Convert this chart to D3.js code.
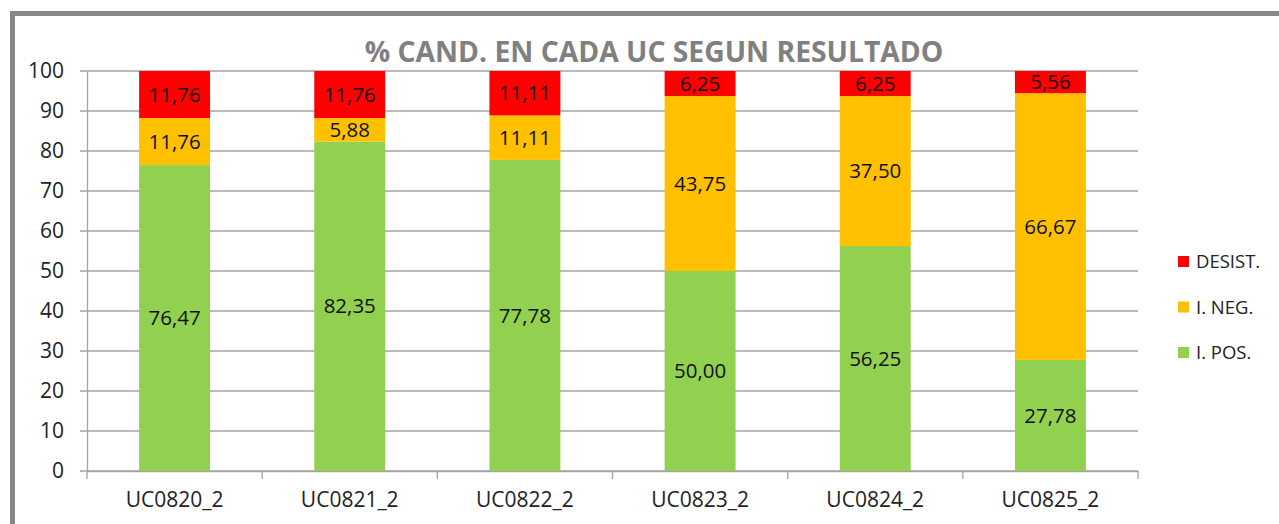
<!DOCTYPE html>
<html>
<head>
<meta charset="utf-8">
<script src="https://cdn.jsdelivr.net/npm/d3@7"></script>
<style>
  body { margin: 0; background: #fff; }
  text { font-family: "Open Sans", sans-serif; }
</style>
</head>
<body>
<div id="chart"></div>
<script>
var categories = ["UC0820_2", "UC0821_2", "UC0822_2", "UC0823_2", "UC0824_2", "UC0825_2"];
var iPos = [76.47, 82.35, 77.78, 50.00, 56.25, 27.78];
var iNeg = [11.76, 5.88, 11.11, 43.75, 37.50, 66.67];
var desist = [11.76, 11.76, 11.11, 6.25, 6.25, 5.56];
var seriesNames = ["I. POS.", "I. NEG.", "DESIST."];
var seriesColors = ["#92D050", "#FFC000", "#FF0000"];
var yTicks = [0, 10, 20, 30, 40, 50, 60, 70, 80, 90, 100];

var svgWidth = 1279;
var svgHeight = 524;

var margin = { top: 71, right: 141, bottom: 53, left: 87 };
var chartWidth = svgWidth - margin.left - margin.right;
var chartHeight = svgHeight - margin.top - margin.bottom;

var svg = d3.select("#chart").append("svg")
  .attr("width", svgWidth)
  .attr("height", svgHeight);

// outer frame (only top and left edges show)
svg.append("path")
  .attr("d", "M12.5,540 L12.5,13.5 L1290,13.5")
  .attr("fill", "none")
  .attr("stroke", "#878787")
  .attr("stroke-width", 5);

var chartGroup = svg.append("g")
  .attr("transform", `translate(${margin.left}, ${margin.top})`);

var rows = categories.map(function(c, i) {
  return { cat: c, "I. POS.": iPos[i], "I. NEG.": iNeg[i], "DESIST.": desist[i] };
});

var xScale = d3.scaleBand()
  .domain(categories)
  .range([0, chartWidth])
  .paddingInner(0.595)
  .paddingOuter(0.2975);

var yScale = d3.scaleLinear()
  .domain([0, 100])
  .range([chartHeight, 0]);

// gridlines
chartGroup.append("g").selectAll("line")
  .data(yTicks)
  .enter()
  .append("line")
  .attr("x1", -7)
  .attr("x2", chartWidth)
  .attr("y1", d => yScale(d))
  .attr("y2", d => yScale(d))
  .attr("stroke", "#a3a3a3")
  .attr("stroke-width", 1.3);

// y axis
var yAxis = d3.axisLeft(yScale).tickValues(yTicks).tickSize(0).tickPadding(23);
var yG = chartGroup.append("g").call(yAxis);
yG.select(".domain").attr("stroke", "#a3a3a3").attr("stroke-width", 1.3);
yG.selectAll("text")
  .style("font-family", "'Open Sans', sans-serif")
  .style("font-size", "21px")
  .attr("fill", "#222");

// x axis
var xAxis = d3.axisBottom(xScale).tickSize(0).tickPadding(21);
var xG = chartGroup.append("g")
  .attr("transform", `translate(0, ${chartHeight})`)
  .call(xAxis);
xG.select(".domain").attr("stroke", "#a3a3a3").attr("stroke-width", 1.3);
xG.selectAll("text")
  .style("font-family", "'Open Sans', sans-serif")
  .style("font-size", "21px")
  .attr("fill", "#222");
var step = xScale.step();
xG.append("g").selectAll("line")
  .data(d3.range(categories.length + 1))
  .enter()
  .append("line")
  .attr("x1", d => d * step)
  .attr("x2", d => d * step)
  .attr("y1", 0)
  .attr("y2", 8)
  .attr("stroke", "#a3a3a3")
  .attr("stroke-width", 1.3);

// stacked bars
var stack = d3.stack().keys(seriesNames);
var stacked = stack(rows);

var layers = chartGroup.append("g").selectAll("g")
  .data(stacked)
  .enter()
  .append("g")
  .attr("fill", (d, i) => seriesColors[i]);

layers.selectAll("rect")
  .data(d => d)
  .enter()
  .append("rect")
  .attr("x", d => xScale(d.data.cat))
  .attr("width", xScale.bandwidth())
  .attr("y", d => yScale(Math.min(d[1], 100)))
  .attr("height", d => yScale(d[0]) - yScale(Math.min(d[1], 100)));

layers.selectAll("text")
  .data(d => d.map(p => ({ p: p, key: d.key })))
  .enter()
  .append("text")
  .attr("x", d => xScale(d.p.data.cat) + xScale.bandwidth() / 2)
  .attr("y", d => (yScale(d.p[0]) + yScale(Math.min(d.p[1], 100))) / 2)
  .attr("dy", "0.35em")
  .attr("text-anchor", "middle")
  .attr("fill", "#111")
  .style("font-size", "20.5px")
  .text(d => d3.format(".2f")(d.p.data[d.key]).replace(".", ","));

// title
svg.append("text")
  .attr("x", 654)
  .attr("y", 62)
  .attr("text-anchor", "middle")
  .attr("fill", "#808080")
  .style("font-weight", "bold")
  .style("font-size", "28.3px")
  .text("% CAND. EN CADA UC SEGUN RESULTADO");

// legend
var legendNames = ["DESIST.", "I. NEG.", "I. POS."];
var legendColors = ["#FF0000", "#FFC000", "#92D050"];
var legend = svg.append("g").selectAll("g")
  .data(legendNames)
  .enter()
  .append("g")
  .attr("transform", (d, i) => `translate(1178, ${262 + i * 45.5})`);

legend.append("rect")
  .attr("x", 0)
  .attr("y", -6)
  .attr("width", 11)
  .attr("height", 11)
  .attr("fill", (d, i) => legendColors[i]);

legend.append("text")
  .attr("x", 18)
  .attr("y", 0)
  .attr("dy", "0.35em")
  .attr("fill", "#222")
  .style("font-size", "18.5px")
  .text(d => d);
</script>
</body>
</html>
